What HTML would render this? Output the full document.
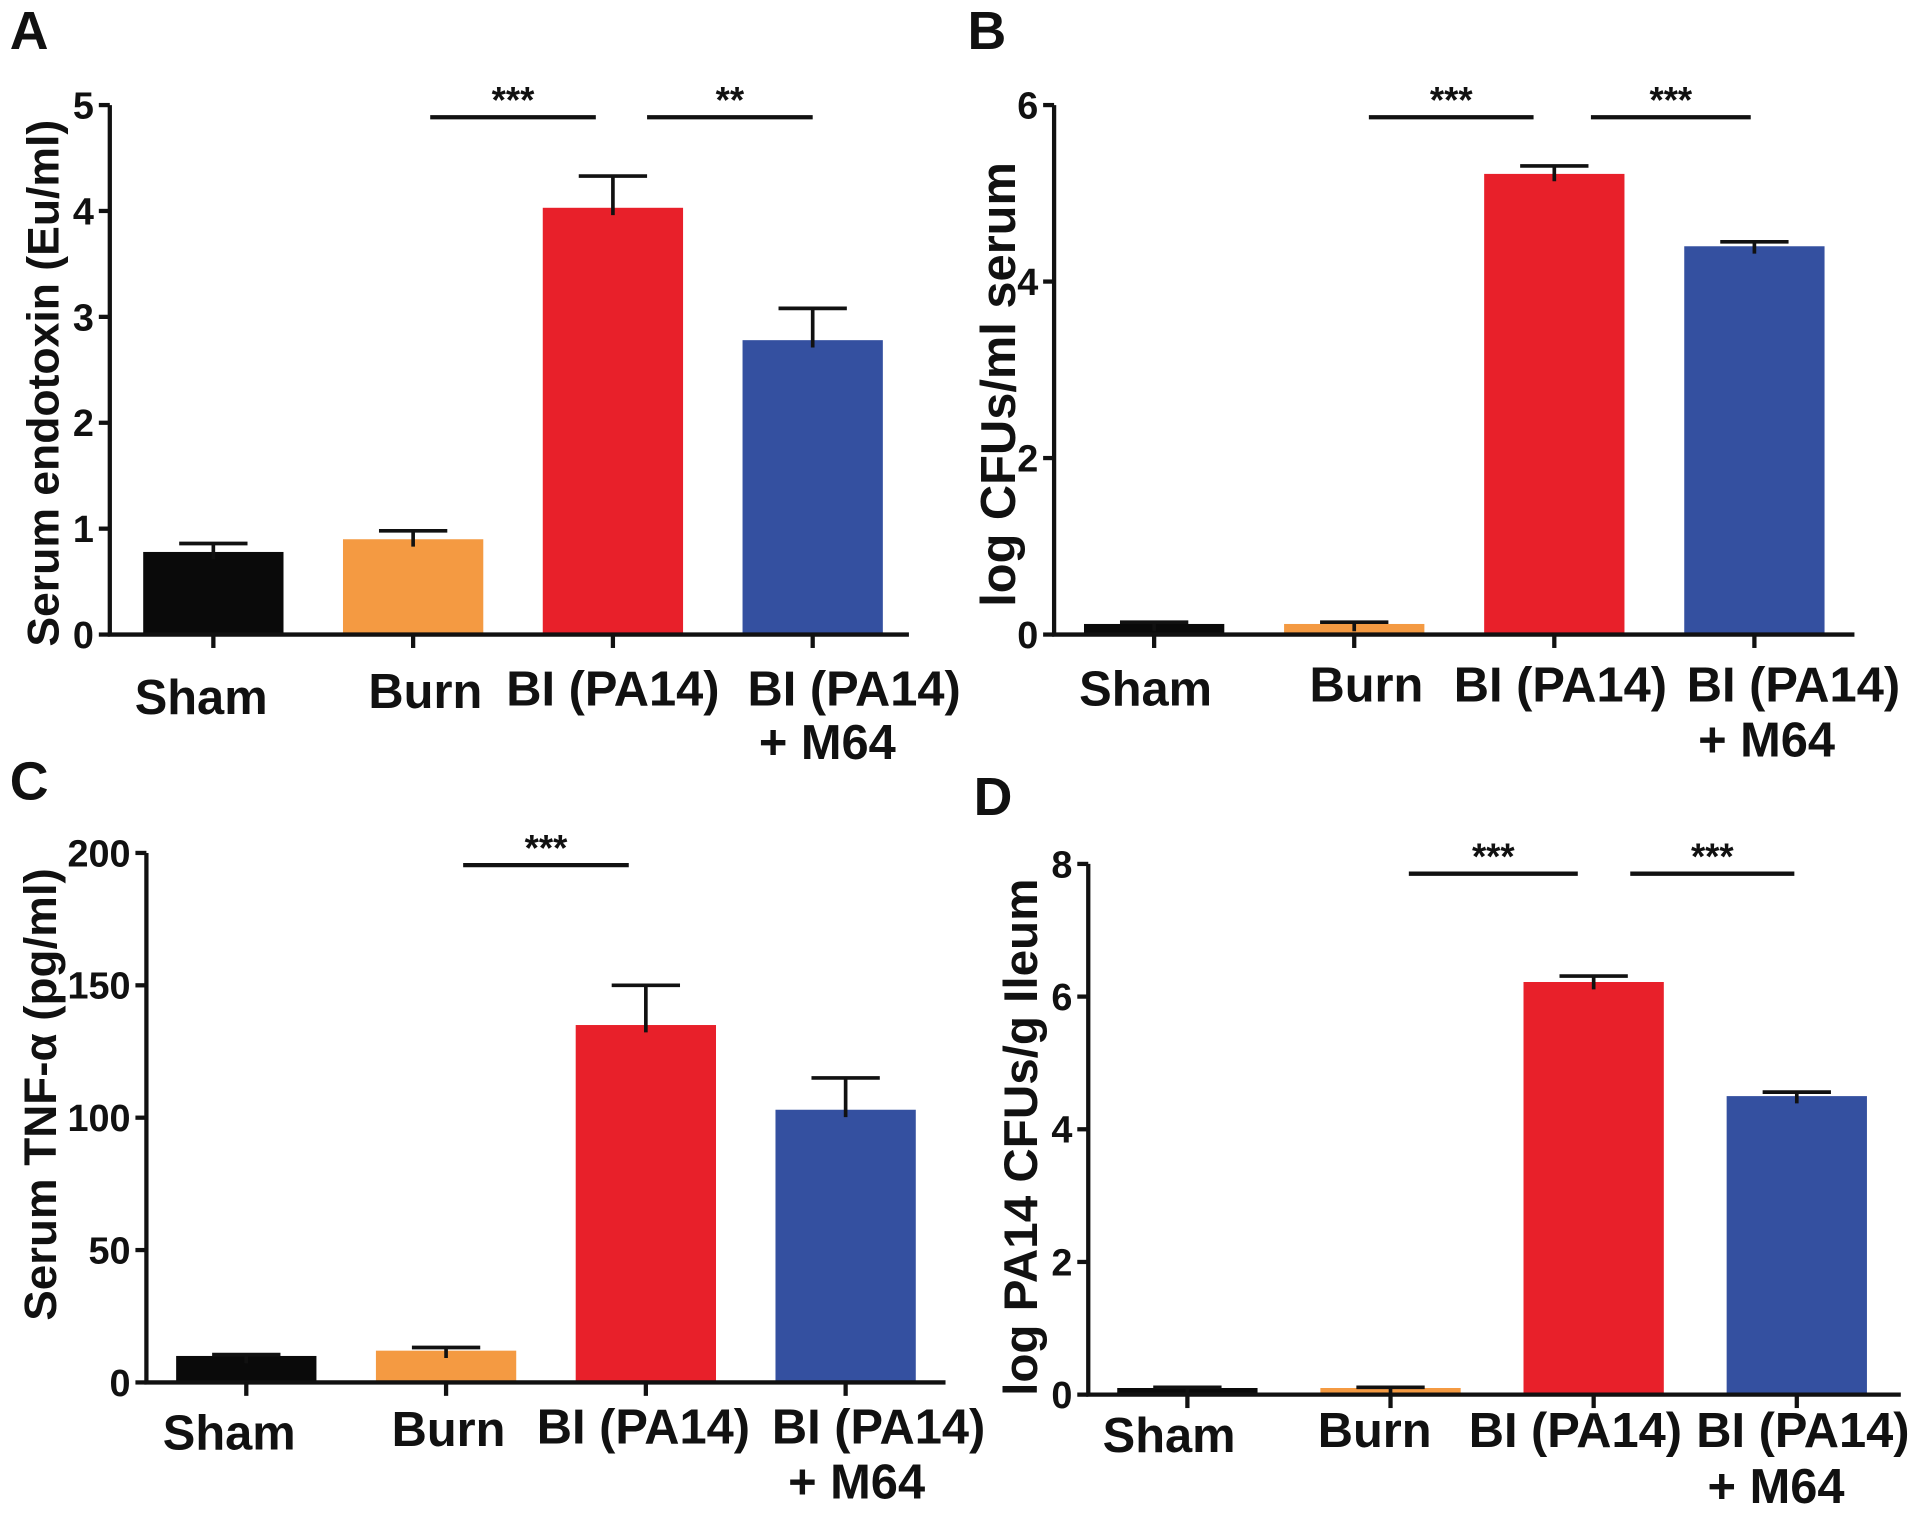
<!DOCTYPE html>
<html><head><meta charset="utf-8"><style>
html,body{margin:0;padding:0;background:#fff;}
svg{display:block;}
text{font-family:"Liberation Sans",Arial,sans-serif;font-weight:bold;fill:#111;}
</style></head><body>
<svg id="fig" width="1913" height="1518" viewBox="0 0 1568 1244" xmlns="http://www.w3.org/2000/svg"></svg>
<script>
const categories = ["Sham","Burn","BI (PA14)","BI (PA14)"];
const colors = ["#0a0a0a","#f49a42","#e8202a","#3450a0"];
const valuesA = [0.78, 0.90, 4.03, 2.78];
const errorsA = [0.08, 0.08, 0.30, 0.30];
const ticksA = [0,1,2,3,4,5];
const valuesB = [0.12, 0.12, 5.22, 4.40];
const errorsB = [0.02, 0.02, 0.09, 0.05];
const ticksB = [0,2,4,6];
const valuesC = [10, 12, 135, 103];
const errorsC = [0.5, 1.2, 15, 12];
const ticksC = [0,50,100,150,200];
const valuesD = [0.10, 0.10, 6.22, 4.50];
const errorsD = [0.01, 0.01, 0.09, 0.06];
const ticksD = [0,2,4,6,8];
const sigA = [[1,2,"***"],[2,3,"**"]];
const sigB = [[1,2,"***"],[2,3,"***"]];
const sigC = [[1,2,"***"]];
const sigD = [[1,2,"***"],[2,3,"***"]];

const NS="http://www.w3.org/2000/svg";
const svg=document.getElementById('fig');
function mk(tag,attrs,parent){const e=document.createElementNS(NS,tag);for(const k in attrs)e.setAttribute(k,attrs[k]);(parent||svg).appendChild(e);return e;}

function panel(cfg){
  const g=mk('g',{});
  
  
  const ymax=cfg.ticks[cfg.ticks.length-1];
  const y=v=>cfg.y0-(v/ymax)*(cfg.y0-cfg.yTop);
  const slot=(cfg.xEnd-cfg.ax)/4;
  const xc=i=>cfg.ax+slot*(i+0.5)-cfg.shift;
  const bw=cfg.bw;
  const L=mk('text',{x:cfg.lx,y:cfg.ly,'font-size':44},g);L.textContent=cfg.letter;
  
  
  cfg.values.forEach((v,i)=>{
    const r=mk('rect',{x:xc(i)-bw/2,y:y(v),width:bw,height:cfg.y0-y(v),fill:colors[i]},g);
    
    
    const e=cfg.errors[i];
    const eb=mk('path',{d:`M${xc(i)} ${y(v)+6} V${y(v+e)} M${xc(i)-28} ${y(v+e)} H${xc(i)+28}`,stroke:'#111','stroke-width':3,fill:'none'},g);
    
    
  });
  const ax=mk('path',{d:`M${cfg.ax} ${cfg.yTop} V${cfg.y0} H${cfg.xEnd}`,stroke:'#111','stroke-width':3.5,fill:'none'},g);
  
  
  cfg.ticks.forEach(t=>{
    mk('path',{d:`M${cfg.ax-9} ${y(t)} H${cfg.ax}`,stroke:'#111','stroke-width':3.5},g);
    const tl=mk('text',{x:cfg.ax-13,y:y(t)+11,'font-size':31,'text-anchor':'end'},g);tl.textContent=t;
    
    
  });
  categories.forEach((c,i)=>{
    mk('path',{d:`M${xc(i)} ${cfg.y0} V${cfg.y0+11}`,stroke:'#111','stroke-width':3.5},g);
    const off=cfg.labOff[i];
    const t=mk('text',{x:xc(i)+off[0],y:cfg.y0+off[1],'font-size':40,'text-anchor':'middle'},g);t.textContent=c;
    
    
  });
  const t2=mk('text',{x:xc(3)+cfg.m64[0],y:cfg.y0+cfg.m64[1],'font-size':40,'text-anchor':'middle'},g);t2.textContent='+ M64';
  
  
  const yt=mk('text',{x:0,y:0,'font-size':cfg.tfs,'text-anchor':'middle',transform:`translate(${cfg.tx},${cfg.ty}) rotate(-90)`},g);yt.textContent=cfg.title;
  
  
  cfg.sig.forEach((s,k)=>{
    const x1=xc(s[0])+cfg.sigOff[k][0],x2=xc(s[1])+cfg.sigOff[k][1];
    const l=mk('path',{d:`M${x1} ${cfg.sigY} H${x2}`,stroke:'#111','stroke-width':3.5},g);
    
    
    const st=mk('text',{x:(x1+x2)/2,y:cfg.sigY-4,'font-size':30,'text-anchor':'middle'},g);st.textContent=s[2];
    
    
  });
}
panel({letter:'A',lx:8,ly:40,ax:90,xEnd:745,y0:520,yTop:86,bw:115,shift:-3,values:valuesA,errors:errorsA,ticks:ticksA,title:'Serum endotoxin (Eu/ml)',tfs:36.5,tx:48,ty:314,sig:sigA,sigOff:[[14,-14],[28,0]],sigY:96,labOff:[[-10,65],[10,60],[0,58],[34,58]],m64:[12,102]});
panel({letter:'B',lx:793,ly:40,ax:864,xEnd:1520,y0:520,yTop:86,bw:115,shift:0,values:valuesB,errors:errorsB,ticks:ticksB,title:'log CFUs/ml serum',tfs:40,tx:832,ty:315,sig:sigB,sigOff:[[12,-17],[30,-3]],sigY:96,labOff:[[-7,58],[10,55],[5,55],[32,55]],m64:[10,100]});
panel({letter:'C',lx:8,ly:655,ax:120,xEnd:775,y0:1133,yTop:699,bw:115,shift:0,values:valuesC,errors:errorsC,ticks:ticksC,title:'Serum TNF-\u03b1 (pg/ml)',tfs:37.5,tx:46,ty:897,sig:sigC,sigOff:[[14,-14]],sigY:709,labOff:[[-14,55],[2,52],[-2,50],[27,50]],m64:[9,95]});
panel({letter:'D',lx:798,ly:668,ax:892,xEnd:1558,y0:1143,yTop:708,bw:115,shift:2,values:valuesD,errors:errorsD,ticks:ticksD,title:'log PA14 CFUs/g Ileum',tfs:39,tx:850,ty:932,sig:sigD,sigOff:[[15,-13],[30,-2]],sigY:716,labOff:[[-15,47],[-13,43],[-15,43],[5,43]],m64:[-17,89]});
</script>
</body></html>
